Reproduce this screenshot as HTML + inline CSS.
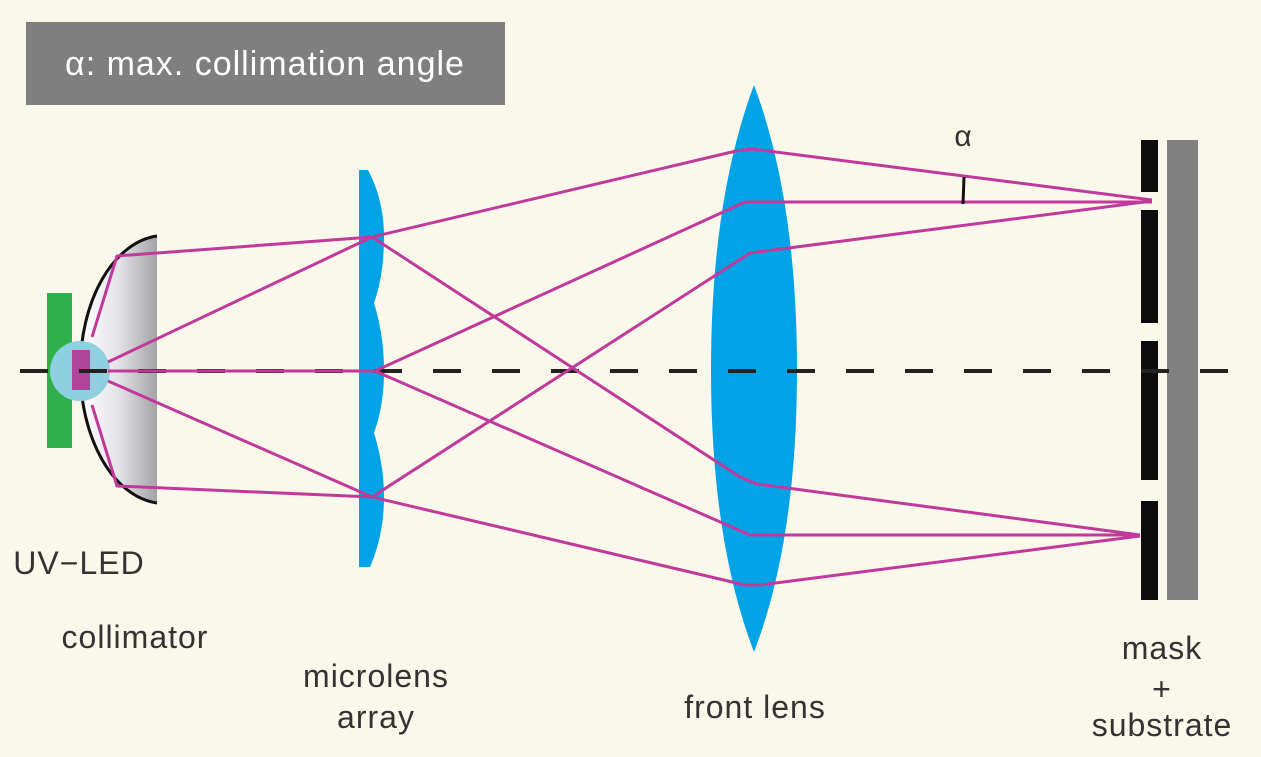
<!DOCTYPE html>
<html><head><meta charset="utf-8"><style>
html,body{margin:0;padding:0;background:#f9f8eb;}
svg{display:block;}
text{font-family:"Liberation Sans","DejaVu Sans",sans-serif;}
</style></head><body>
<svg width="1261" height="757" viewBox="0 0 1261 757" xmlns="http://www.w3.org/2000/svg">
<defs>
<linearGradient id="cg" x1="0" y1="0" x2="1" y2="0">
<stop offset="0" stop-color="#ffffff"/><stop offset="0.5" stop-color="#e3e3e7"/><stop offset="1" stop-color="#a4a4a8"/>
</linearGradient>
</defs>
<rect width="1261" height="757" fill="#f9f8eb"/>
<rect x="26" y="22" width="479" height="83" fill="#7f7f7f"/>
<text x="265" y="75" font-size="34" letter-spacing="1" fill="#ffffff" text-anchor="middle">α: max. collimation angle</text>

<!-- collimator -->
<path d="M157,236 A84,134 0 0 0 157,503 Z" fill="url(#cg)"/>
<path d="M157,236 A84,134 0 0 0 157,503" fill="none" stroke="#111" stroke-width="3"/>
<!-- LED -->
<rect x="47" y="293" width="25" height="155" fill="#2fb04a"/>
<circle cx="80" cy="371" r="30" fill="#8fd0e0"/>
<rect x="72" y="350" width="18" height="40" fill="#b0449a"/>

<!-- microlens array -->
<path d="M359,170 L368,170 Q384,200 384,237 Q384,275 374,303 Q384,335 384,371 Q384,405 374,433 Q384,465 384,497 Q384,535 370,567 L359,567 Z" fill="#00a3e6"/>
<!-- front lens -->
<path d="M754,85 Q797,200 797,370 Q797,540 754,652 Q711,540 711,370 Q711,200 754,85 Z" fill="#00a3e6"/>

<!-- mask + substrate -->
<rect x="1141" y="140" width="17" height="52" fill="#0c0c0c"/>
<rect x="1141" y="210" width="17" height="113" fill="#0c0c0c"/>
<rect x="1141" y="341" width="17" height="139" fill="#0c0c0c"/>
<rect x="1141" y="501" width="17" height="99" fill="#0c0c0c"/>
<rect x="1167" y="140" width="31" height="460" fill="#808080"/>

<!-- axis -->
<line x1="20" y1="371" x2="1240" y2="371" stroke="#222" stroke-width="4" stroke-dasharray="28,31"/>

<!-- rays -->
<g fill="none" stroke="#c0399b" stroke-width="3" stroke-linejoin="round">
<polyline points="92,337 117,256 372,237"/>
<polyline points="92,405 117,486 372,497"/>
<polyline points="108,362 372,237"/>
<polyline points="108,381 372,497"/>
<polyline points="108,371 375,371"/>
<polyline points="372,237 736,151 752,149 1152,200"/>
<polyline points="372,237 740,477 757,484 1140,535"/>
<polyline points="375,371 745,202 1152,202"/>
<polyline points="375,371 750,535 1140,535"/>
<polyline points="372,497 750,253 1152,201"/>
<polyline points="372,497 745,585 760,585 1140,536"/>
</g>
<line x1="964" y1="177" x2="963" y2="204" stroke="#111" stroke-width="3"/>
<text x="963" y="146" font-size="30" fill="#333" text-anchor="middle">α</text>

<g font-size="32" letter-spacing="1" fill="#333" text-anchor="middle">
<text x="79" y="574">UV−LED</text>
<text x="135" y="648">collimator</text>
<text x="376" y="687">microlens</text>
<text x="376" y="728">array</text>
<text x="755" y="718">front lens</text>
<text x="1162" y="659">mask</text>
<text x="1162" y="700">+</text>
<text x="1162" y="736">substrate</text>
</g>
</svg>
</body></html>
